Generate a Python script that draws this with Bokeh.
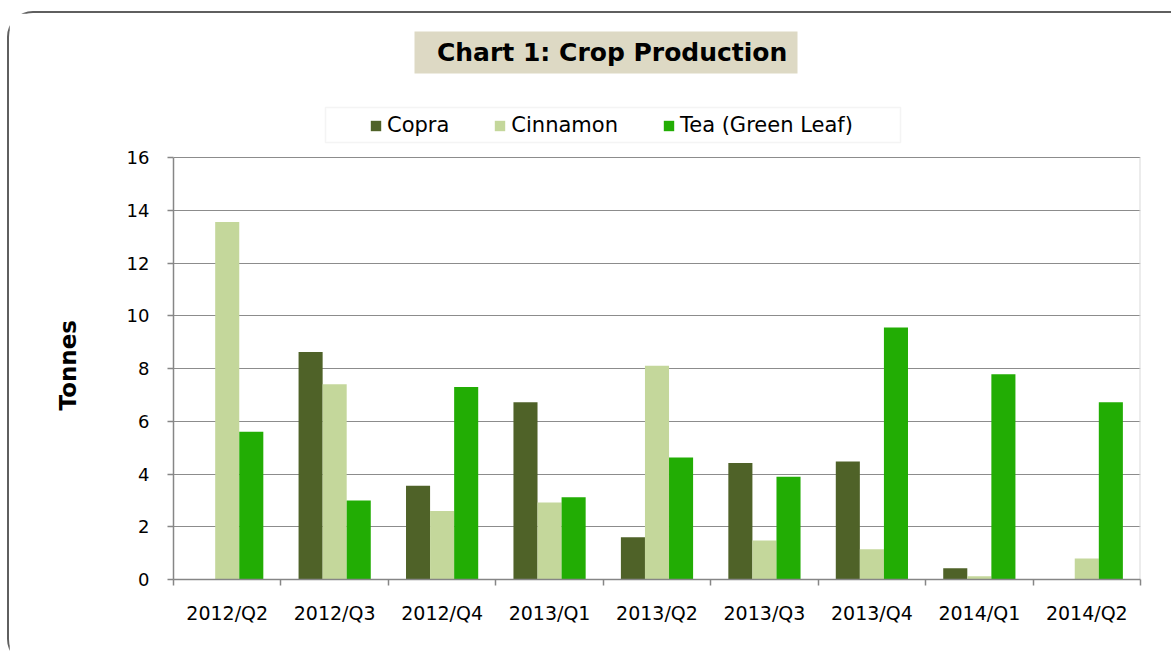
from bokeh.plotting import figure
from bokeh.models import (Range1d, FixedTicker, ColumnDataSource, Legend, LegendItem,
                          Label, BoxAnnotation, Title)
from bokeh.transform import dodge
from bokeh.embed import file_html
from bokeh.resources import INLINE

# ---- data ----
quarters = ["2012/Q2", "2012/Q3", "2012/Q4", "2013/Q1", "2013/Q2",
            "2013/Q3", "2013/Q4", "2014/Q1", "2014/Q2"]
copra = [0, 8.63, 3.55, 6.72, 1.6, 4.42, 4.47, 0.43, 0]
cinnamon = [13.55, 7.4, 2.6, 2.92, 8.1, 1.48, 1.15, 0.12, 0.8]
tea = [5.6, 3.0, 7.3, 3.12, 4.63, 3.9, 9.55, 7.78, 6.72]
series_names = ["Copra", "Cinnamon", "Tea (Green Leaf)"]
colors = ["#4f6228", "#c4d79b", "#22ad04"]
y_ticks = [0, 2, 4, 6, 8, 10, 12, 14, 16]

FONT = "DejaVu Sans"
W, H = 1164, 654
FRAME_H = 566                      # frame covers canvas from top to the x axis
Y_TOP = 16 * FRAME_H / 422.0       # so that 16 sits 422px above the axis

p = figure(width=W, height=H, output_backend="svg", toolbar_location=None,
           x_range=Range1d(0, len(quarters)), y_range=Range1d(0, Y_TOP),
           min_border_left=164, min_border_right=33, min_border_top=0,
           min_border_bottom=H - FRAME_H)
p.outline_line_color = None
p.background_fill_color = "white"
p.border_fill_color = "white"
p.styles = {"margin-left": "7px", "margin-top": "11px",
            "border-left": "2px solid #5f5f5f", "border-top": "2px solid #5f5f5f",
            "border-top-left-radius": "26px", "border-bottom-left-radius": "26px"}

centers = [i + 0.5 for i in range(len(quarters))]
src = ColumnDataSource(dict(x=centers, copra=copra, cinnamon=cinnamon, tea=tea))

bw = 0.224
renderers = []
for off, col, c in zip([-bw, 0, bw], ["copra", "cinnamon", "tea"], colors):
    r = p.vbar(x=dodge("x", off, range=p.x_range), top=col, width=bw, source=src,
               fill_color=c, line_color=None)
    renderers.append(r)

# right border of the plot area
p.segment(x0=[len(quarters)], y0=[y_ticks[0]], x1=[len(quarters)], y1=[y_ticks[-1]],
          line_color="#d9d9d9", line_width=2)

# ---- axes ----
xa = p.xaxis[0]
xa.ticker = FixedTicker(ticks=centers, minor_ticks=list(range(len(quarters) + 1)))
xa.major_label_overrides = {c: q for c, q in zip(centers, quarters)}
xa.major_tick_line_color = None
xa.minor_tick_in = 0
xa.minor_tick_out = 6
xa.minor_tick_line_color = "#868686"
xa.minor_tick_line_width = 1.5
xa.axis_line_color = "#868686"
xa.axis_line_width = 1.5
xa.major_label_text_font = FONT
xa.major_label_text_font_size = "19px"
xa.major_label_text_color = "#000000"
xa.major_label_standoff = 16

ya = p.yaxis[0]
ya.bounds = (y_ticks[0], y_ticks[-1])
ya.ticker = FixedTicker(ticks=y_ticks)
ya.major_tick_in = 0
ya.major_tick_out = 6
ya.major_tick_line_color = "#868686"
ya.major_tick_line_width = 1.5
ya.minor_tick_line_color = None
ya.axis_line_color = "#868686"
ya.axis_line_width = 1.5
ya.major_label_text_font = FONT
ya.major_label_text_font_size = "18px"
ya.major_label_text_color = "#000000"
ya.major_label_standoff = 18

# axis title, placed alongside the 0..16 part of the axis
p.add_layout(Title(text="Tonnes", align="left", offset=169, standoff=85,
                   text_font=FONT, text_font_size="23px", text_font_style="bold",
                   text_color="#000000"), "left")

p.xgrid.visible = False
p.ygrid.ticker = FixedTicker(ticks=y_ticks)
p.ygrid.grid_line_color = "#8c8c8c"
p.ygrid.grid_line_width = 1.2

# ---- chart title ----
p.add_layout(BoxAnnotation(left=241, right=624, top=548, bottom=506,
                           left_units="screen", right_units="screen",
                           top_units="screen", bottom_units="screen",
                           fill_color="#ddd9c4", fill_alpha=1, line_color=None))
p.add_layout(Label(x=443, y=527, x_units="screen", y_units="screen",
                   text="Chart 1:  Crop Production", text_align="center",
                   text_baseline="middle", text_font=FONT, text_font_size="25px",
                   text_font_style="bold", text_color="#000000"))

# ---- legend ----
p.add_layout(BoxAnnotation(left=152, right=727, top=472, bottom=437,
                           left_units="screen", right_units="screen",
                           top_units="screen", bottom_units="screen",
                           fill_color="white", fill_alpha=1,
                           line_color="#d9d9d9", line_width=1.5))
legend = Legend(items=[LegendItem(label=n, renderers=[r]) for n, r in zip(series_names, renderers)],
                orientation="horizontal", location=(196, 442), padding=0, margin=0,
                spacing=44, glyph_width=13, glyph_height=13, label_standoff=5,
                label_text_font=FONT, label_text_font_size="21px",
                label_text_color="#000000",
                border_line_color=None, background_fill_alpha=0)
p.add_layout(legend)

open("out.html", "w").write(file_html(p, INLINE))
